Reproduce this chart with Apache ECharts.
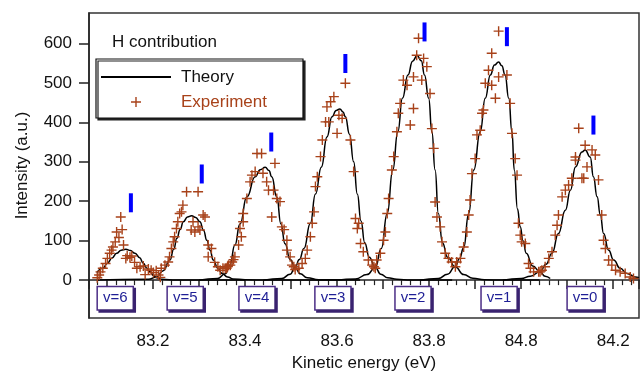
<!DOCTYPE html>
<html>
<head>
<meta charset="utf-8">
<script src="https://cdn.jsdelivr.net/npm/echarts@6/dist/echarts.min.js"></script>
<style>
  html, body { margin: 0; padding: 0; background: #fff; }
  #chart { width: 640px; height: 375px; }
</style>
</head>
<body>
<div id="chart"></div>
<script>
// experiment points per vibrational peak [energy eV, intensity]
const expV6 = [[83.079, 6], [83.083, 13], [83.086, 21], [83.091, 30], [83.097, 42], [83.101, 55], [83.106, 68], [83.110, 76], [83.113, 84], [83.118, 97], [83.121, 122], [83.126, 108], [83.130, 160], [83.133, 128], [83.136, 89], [83.141, 55], [83.144, 62], [83.150, 58], [83.154, 61], [83.160, 45], [83.165, 30], [83.172, 34], [83.179, 36], [83.183, 14], [83.190, 28], [83.196, 25], [83.201, 19], [83.207, 24], [83.212, 13], [83.216, 7]]
const expV5 = [[83.218, 30], [83.226, 38], [83.233, 46], [83.236, 59], [83.240, 80], [83.244, 97], [83.247, 110], [83.251, 131], [83.254, 148], [83.258, 169], [83.262, 173], [83.265, 190], [83.273, 224], [83.283, 127], [83.287, 148], [83.291, 122], [83.298, 135], [83.298, 224], [83.302, 127], [83.309, 165], [83.313, 160], [83.320, 89], [83.327, 80], [83.320, 59], [83.334, 45], [83.341, 34], [83.346, 25], [83.352, 30], [83.357, 30], [83.362, 34], [83.368, 38]]
const expV4 = [[83.360, 30], [83.364, 38], [83.372, 46], [83.375, 52], [83.378, 59], [83.386, 89], [83.389, 131], [83.392, 110], [83.396, 148], [83.396, 169], [83.404, 207], [83.411, 249], [83.415, 266], [83.422, 275], [83.426, 321], [83.436, 321], [83.439, 271], [83.447, 249], [83.451, 228], [83.458, 160], [83.462, 228], [83.465, 296], [83.469, 207], [83.476, 199], [83.480, 135], [83.485, 128], [83.491, 101], [83.491, 76], [83.498, 59], [83.502, 38], [83.509, 27]]
const expV3 = [[83.506, 34], [83.517, 30], [83.524, 42], [83.531, 55], [83.535, 76], [83.542, 110], [83.546, 144], [83.550, 173], [83.553, 237], [83.557, 262], [83.564, 313], [83.568, 355], [83.575, 401], [83.582, 401], [83.578, 439], [83.586, 452], [83.593, 465], [83.600, 372], [83.604, 418], [83.611, 410], [83.618, 499], [83.629, 355], [83.636, 275], [83.640, 156], [83.644, 131], [83.647, 144], [83.651, 93], [83.657, 72], [83.668, 51], [83.676, 38], [83.683, 30]]
const expV2 = [[83.680, 34], [83.686, 51], [83.694, 68], [83.701, 101], [83.705, 122], [83.709, 169], [83.712, 207], [83.719, 279], [83.723, 313], [83.730, 376], [83.733, 423], [83.737, 448], [83.744, 507], [83.752, 494], [83.759, 393], [83.766, 435], [83.766, 515], [83.773, 570], [83.777, 613], [83.784, 507], [83.788, 562], [83.795, 541], [83.802, 473], [83.806, 384], [83.810, 334], [83.813, 198], [83.817, 160], [83.824, 135], [83.828, 97], [83.835, 68], [83.842, 55], [83.849, 46], [83.857, 34]]
const expV1 = [[83.860, 46], [83.868, 55], [83.875, 84], [83.882, 122], [83.886, 165], [83.889, 203], [83.893, 270], [83.900, 308], [83.904, 368], [83.911, 380], [83.915, 423], [83.918, 431], [83.922, 499], [83.929, 532], [83.936, 575], [83.936, 494], [83.944, 461], [83.951, 631], [83.951, 515], [83.969, 520], [83.976, 448], [83.980, 372], [83.987, 308], [83.991, 266], [83.994, 144], [83.998, 114], [84.001, 97], [84.009, 93], [84.016, 42], [84.020, 30], [84.027, 21], [84.038, 21], [84.045, 25]]
const expV0 = [[84.041, 21], [84.052, 34], [84.060, 55], [84.067, 72], [84.074, 114], [84.078, 139], [84.081, 165], [84.089, 211], [84.096, 228], [84.103, 241], [84.110, 258], [84.118, 304], [84.118, 312], [84.125, 385], [84.132, 258], [84.136, 258], [84.139, 342], [84.143, 287], [84.154, 330], [84.161, 317], [84.168, 254], [84.175, 165], [84.179, 101], [84.183, 80], [84.190, 51], [84.197, 38], [84.205, 25], [84.215, 21], [84.226, 17], [84.237, 8], [84.244, 4]]

// theory curves
const theoryV6 = [[83.078, 19], [83.091, 30], [83.101, 43], [83.111, 56], [83.121, 68], [83.131, 76], [83.141, 78], [83.151, 75], [83.161, 68], [83.171, 57], [83.179, 43], [83.187, 30], [83.194, 21], [83.201, 12], [83.208, 6], [83.220, 2], [83.250, 0], [83.400, 0]]
const theoryV5 = [[83.078, 0], [83.190, 2], [83.208, 8], [83.222, 24], [83.237, 51], [83.245, 78], [83.252, 106], [83.259, 128], [83.266, 148], [83.275, 160], [83.284, 163], [83.293, 159], [83.302, 148], [83.310, 126], [83.317, 101], [83.324, 76], [83.331, 51], [83.341, 30], [83.350, 17], [83.362, 8], [83.374, 3], [83.400, 1], [83.450, 0], [83.600, 0]]
const theoryV4 = [[83.300, 0], [83.340, 4], [83.357, 16], [83.367, 38], [83.378, 89], [83.389, 142], [83.404, 211], [83.422, 262], [83.433, 280], [83.444, 286], [83.452, 278], [83.458, 262], [83.469, 211], [83.478, 142], [83.487, 92], [83.498, 52], [83.509, 32], [83.520, 16], [83.535, 6], [83.560, 1], [83.650, 0]]
const theoryV3 = [[83.440, 0], [83.480, 4], [83.498, 15], [83.509, 33], [83.518, 52], [83.528, 80], [83.542, 144], [83.553, 218], [83.566, 287], [83.578, 363], [83.589, 414], [83.598, 430], [83.606, 434], [83.613, 426], [83.618, 414], [83.627, 370], [83.636, 300], [83.644, 218], [83.652, 150], [83.660, 95], [83.670, 58], [83.683, 32], [83.695, 15], [83.710, 6], [83.730, 2], [83.760, 0], [83.850, 0]]
const theoryV2 = [[83.600, 0], [83.640, 3], [83.665, 14], [83.683, 32], [83.696, 80], [83.709, 169], [83.721, 279], [83.732, 376], [83.742, 461], [83.754, 520], [83.764, 555], [83.774, 569], [83.783, 556], [83.790, 520], [83.799, 461], [83.806, 376], [83.813, 279], [83.820, 169], [83.829, 95], [83.840, 58], [83.857, 33], [83.875, 14], [83.895, 5], [83.920, 1], [83.960, 0], [84.040, 0]]
const theoryV1 = [[83.780, 0], [83.820, 4], [83.840, 15], [83.857, 35], [83.866, 55], [83.875, 82], [83.886, 169], [83.897, 279], [83.911, 376], [83.922, 461], [83.933, 520], [83.942, 545], [83.951, 553], [83.958, 543], [83.965, 520], [83.973, 461], [83.980, 376], [83.985, 279], [83.992, 180], [83.998, 135], [84.004, 100], [84.011, 68], [84.025, 36], [84.041, 21], [84.052, 10], [84.063, 4]]
const theoryV0 = [[83.960, 0], [84.000, 4], [84.020, 10], [84.041, 21], [84.054, 40], [84.067, 68], [84.081, 118], [84.096, 177], [84.107, 228], [84.118, 287], [84.132, 325], [84.139, 330], [84.150, 312], [84.157, 262], [84.165, 211], [84.172, 165], [84.179, 118], [84.190, 76], [84.201, 51], [84.215, 30], [84.230, 17], [84.248, 8], [84.256, 6]]

// blue bars above each peak
const markerX = [83.152, 83.306, 83.457, 83.618, 83.790, 83.969, 84.157]
const markerY = [196, 269, 350, 549, 629, 617, 393]

// boxed level labels under the baseline
const levelNames = ['v=6', 'v=5', 'v=4', 'v=3', 'v=2', 'v=1', 'v=0']
const levelX = [83.118, 83.270, 83.426, 83.591, 83.765, 83.952, 84.139]
const levelY = -46

const yTicks = [0, 100, 200, 300, 400, 500, 600]
const xLabelValues = [83.2, 83.4, 83.6, 83.8, 84.0, 84.2]
const xLabelText = ['83.2', '83.4', '83.6', '83.8', '84.8', '84.2']

const font = 'Liberation Sans'
const ink = '#222'
const brown = '#a8421a'

const chart = echarts.init(document.getElementById('chart'))

const theorySeries = [theoryV6, theoryV5, theoryV4, theoryV3, theoryV2, theoryV1, theoryV0].map(d => ({
  name: 'Theory',
  type: 'line',
  data: d,
  smooth: true,
  smoothMonotone: 'x',
  symbol: 'none',
  silent: true,
  z: 3,
  lineStyle: { color: '#000', width: 1.5 },
  itemStyle: { color: '#000' }
}))

const option = {
  animation: false,
  textStyle: { fontFamily: font },
  title: {
    text: 'H contribution',
    left: 107,
    top: 29,
    textStyle: { fontSize: 17, fontWeight: 'normal', color: '#111', fontFamily: font }
  },
  legend: {
    left: 96,
    top: 59,
    orient: 'vertical',
    itemWidth: 70,
    itemHeight: 10,
    itemGap: 5,
    padding: [8, 36, 6, 4],
    backgroundColor: '#fff',
    borderColor: '#111',
    borderWidth: 1.2,
    shadowColor: '#222',
    shadowOffsetX: 2,
    shadowOffsetY: 2,
    shadowBlur: 0,
    selectedMode: false,
    textStyle: { fontSize: 17, lineHeight: 20, fontFamily: font, padding: [0, 0, 0, 5] },
    data: [
      { name: 'Theory', textStyle: { color: '#111' }, itemStyle: { color: 'rgba(0,0,0,0)', borderWidth: 0 } },
      { name: 'Experiment', textStyle: { color: brown }, itemStyle: { borderWidth: 1.4 } }
    ]
  },
  grid: {
    left: 89,
    right: 1,
    top: 13,
    bottom: 57,
    show: true,
    borderColor: '#333',
    borderWidth: 1.5,
    containLabel: false,
    outerBoundsMode: 'none'
  },
  xAxis: {
    type: 'value',
    min: 83.061,
    max: 84.256,
    minInterval: 0.1,
    maxInterval: 0.1,
    splitNumber: 12,
    axisLine: { show: true, lineStyle: { color: ink, width: 1.5 } },
    axisTick: { show: true, length: 9, lineStyle: { color: ink, width: 1.5 } },
    minorTick: { show: true, splitNumber: 5, length: 5, lineStyle: { color: ink, width: 1.2 } },
    splitLine: { show: false },
    minorSplitLine: { show: false },
    axisLabel: {
      customValues: xLabelValues,
      fontSize: 17,
      color: '#111',
      margin: 15,
      fontFamily: font,
      formatter: v => {
        let i = 0
        xLabelValues.forEach((t, k) => { if (Math.abs(t - v) < Math.abs(xLabelValues[i] - v)) i = k })
        return xLabelText[i]
      }
    },
    name: 'Kinetic energy (eV)',
    nameLocation: 'middle',
    nameGap: 37,
    nameTextStyle: { fontSize: 17, color: '#111', fontFamily: font }
  },
  yAxis: {
    type: 'value',
    min: -96,
    max: 677,
    axisLine: { show: true, lineStyle: { color: ink, width: 1.5 } },
    axisTick: { show: true, length: 10, customValues: yTicks, lineStyle: { color: ink, width: 1.5 } },
    splitLine: { show: false },
    axisLabel: { customValues: yTicks, fontSize: 17, color: '#111', margin: 17, fontFamily: font },
    name: 'Intensity (a.u.)',
    nameLocation: 'middle',
    nameGap: 58,
    nameTextStyle: { fontSize: 17, color: '#111', fontFamily: font }
  },
  series: theorySeries.concat([
    {
      name: 'Experiment',
      type: 'scatter',
      data: [].concat(expV6, expV5, expV4, expV3, expV2, expV1, expV0),
      symbol: 'path://M0,5L10,5M5,0L5,10',
      symbolSize: 10,
      symbolKeepAspect: true,
      silent: true,
      z: 4,
      itemStyle: { color: 'rgba(0,0,0,0)', borderColor: brown, borderWidth: 1.4, opacity: 1 }
    },
    {
      name: 'Marker',
      type: 'scatter',
      data: markerX.map((x, i) => [x, markerY[i]]),
      symbol: 'rect',
      symbolSize: [4, 19],
      silent: true,
      z: 5,
      itemStyle: { color: '#0000ff', opacity: 1 }
    },
    {
      name: 'Level',
      type: 'scatter',
      data: levelX.map((x, i) => ({ value: [x, levelY], name: levelNames[i] })),
      symbolSize: 1,
      silent: true,
      z: 6,
      itemStyle: { color: 'rgba(0,0,0,0)', opacity: 1 },
      label: {
        show: true,
        position: 'inside',
        formatter: p => p.name,
        fontSize: 15,
        fontFamily: font,
        color: '#1f1f96',
        backgroundColor: '#fff',
        borderColor: '#4b2d86',
        borderWidth: 1.5,
        padding: [4, 5, 3, 5],
        shadowColor: '#3a2370',
        shadowOffsetX: 2,
        shadowOffsetY: 2,
        shadowBlur: 0
      }
    }
  ])
}

chart.setOption(option)
window.onresize = function() {
  chart.resize()
}
</script>
</body>
</html>
